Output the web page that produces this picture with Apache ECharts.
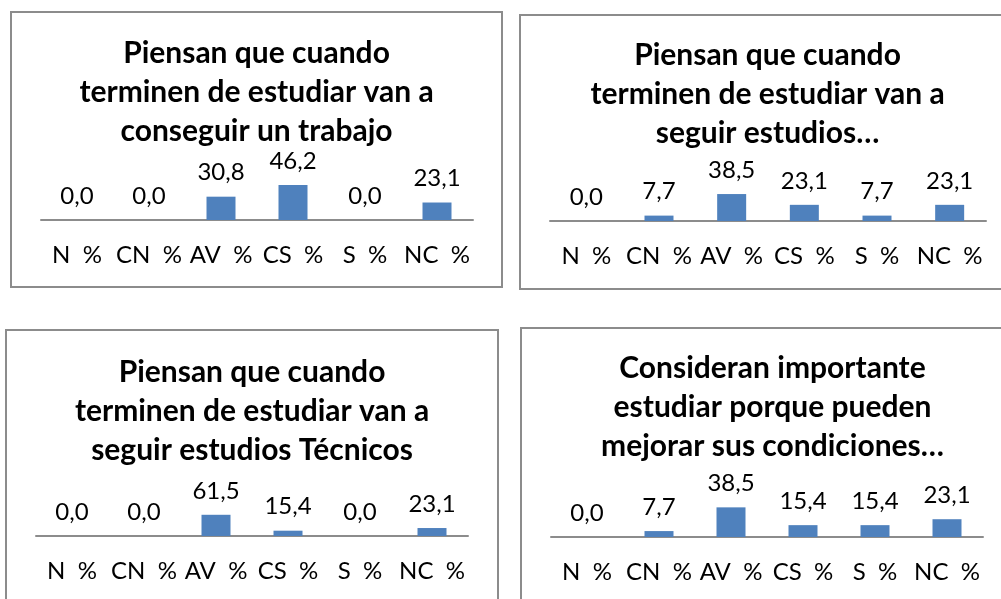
<!DOCTYPE html>
<html>
<head>
<meta charset="utf-8">
<script src="https://cdn.jsdelivr.net/npm/echarts@6/dist/echarts.min.js"></script>
<style>
html,body{margin:0;padding:0;background:#fff;}
#chart{width:1001px;height:599px;}
</style>
</head>
<body>
<div id="chart"></div>
<script>
// ---- data ----
const categories = ["N  %", "CN  %", "AV  %", "CS  %", "S  %", "NC  %"];
const titles = [
  "Piensan que cuando\nterminen de estudiar van a\nconseguir un trabajo",
  "Piensan que cuando\nterminen de estudiar van a\nseguir estudios…",
  "Piensan que cuando\nterminen de estudiar van a\nseguir estudios Técnicos",
  "Consideran importante\nestudiar porque pueden\nmejorar sus condiciones…"
];
const conseguirTrabajo = [0.0, 0.0, 30.8, 46.2, 0.0, 23.1];
const seguirEstudios = [0.0, 7.7, 38.5, 23.1, 7.7, 23.1];
const estudiosTecnicos = [0.0, 0.0, 61.5, 15.4, 0.0, 23.1];
const mejorarCondiciones = [0.0, 7.7, 38.5, 15.4, 15.4, 23.1];
const seriesData = [conseguirTrabajo, seguirEstudios, estudiosTecnicos, mejorarCondiciones];

// ---- layout (pixels) ----
const panels = [
  {box:[11,12,491,275],  grid:{left:41,  width:432, top:144.3, height:75.7}, titleX:256.5, titleY:33.5},
  {box:[520,15,500,274], grid:{left:550, width:436, top:151,   height:70},   titleX:767.5, titleY:35.5},
  {box:[6,330,492,300],  grid:{left:36,  width:432, top:501.5, height:34.5}, titleX:252,   titleY:352.5},
  {box:[521,328,500,300],grid:{left:551, width:432, top:460,   height:77},   titleX:772.5, titleY:348.5}
];

const FONT = 'Lato';
const fmt = v => v.toFixed(1).replace('.', ',');

const option = {
  backgroundColor: '#ffffff',
  animation: false,
  title: panels.map((p, i) => ({
    text: titles[i],
    left: p.titleX,
    top: p.titleY,
    textAlign: 'center',
    padding: 0,
    textStyle: {fontFamily: FONT, fontWeight: 'bold', fontSize: 30, lineHeight: 39, color: '#000'}
  })),
  graphic: panels.map(p => ({
    type: 'rect',
    shape: {x: p.box[0], y: p.box[1], width: p.box[2], height: p.box[3]},
    style: {fill: 'none', stroke: '#8c8c8c', lineWidth: 2},
    z: -1
  })),
  grid: panels.map(p => ({left: p.grid.left, width: p.grid.width, top: p.grid.top, height: p.grid.height, containLabel: false})),
  xAxis: panels.map((p, i) => ({
    type: 'category',
    gridIndex: i,
    data: categories,
    axisLine: {lineStyle: {color: '#8c8c8c', width: 2}},
    axisTick: {show: false},
    axisLabel: {interval: 0, margin: 23, fontFamily: FONT, fontSize: 24, color: '#000'}
  })),
  yAxis: panels.map((p, i) => ({
    type: 'value',
    gridIndex: i,
    min: 0,
    max: 100,
    show: false,
    splitLine: {show: false}
  })),
  series: seriesData.map((d, i) => ({
    type: 'bar',
    xAxisIndex: i,
    yAxisIndex: i,
    data: d,
    barWidth: 29,
    itemStyle: {color: '#4f81bd'},
    label: {
      show: true,
      position: 'top',
      distance: 12,
      fontFamily: FONT,
      fontSize: 24,
      color: '#000',
      formatter: p => fmt(p.value)
    }
  }))
};

const chart = echarts.init(document.getElementById('chart'), null, {renderer: 'canvas'});
chart.setOption(option);
</script>
</body>
</html>
